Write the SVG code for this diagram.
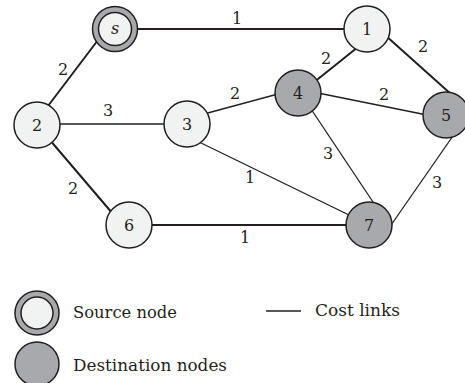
<svg xmlns="http://www.w3.org/2000/svg" width="465" height="383" viewBox="0 0 465 383">
<style>
.e{stroke:#231f20;stroke-width:1.3;fill:none}
.t{stroke-width:2}
.n{fill:#f1f2f2;stroke:#231f20;stroke-width:1.5}
.d{fill:#a7a9ac;stroke:#231f20;stroke-width:1.5}
.r{fill:#a7a9ac;stroke:#231f20;stroke-width:1.5}
text{fill:#231f20;font-family:"DejaVu Serif",serif}
.nl{font-size:16px;text-anchor:middle;dominant-baseline:central}
.el{font-size:16px;text-anchor:middle;dominant-baseline:central}
.lg{font-size:17.5px}
</style>
<rect width="465" height="383" fill="#fff"/>
<g id="connectors">
<line class="e t" x1="135" y1="29" x2="347" y2="29"/>
<line class="e t" x1="98" y1="40" x2="48" y2="106"/>
<line class="e" x1="57" y1="124" x2="167" y2="124"/>
<line class="e t" x1="49" y1="139" x2="113" y2="214"/>
<line class="e" x1="204" y1="114" x2="278" y2="94"/>
<line class="e" x1="197" y1="141" x2="349" y2="215"/>
<line class="e t" x1="313" y1="83" x2="358" y2="47"/>
<line class="e" x1="318" y1="93" x2="427" y2="115"/>
<line class="e" x1="309" y1="106" x2="375" y2="205"/>
<line class="e t" x1="385" y1="35" x2="452" y2="95"/>
<line class="e" x1="455" y1="133" x2="389" y2="228"/>
<line class="e t" x1="148" y1="225" x2="350" y2="225"/>
<text class="el" x="237" y="18">1</text>
<text class="el" x="63" y="69">2</text>
<text class="el" x="108" y="110">3</text>
<text class="el" x="235" y="93">2</text>
<text class="el" x="73" y="188">2</text>
<text class="el" x="326" y="58">2</text>
<text class="el" x="423" y="46">2</text>
<text class="el" x="384" y="94">2</text>
<text class="el" x="328" y="153">3</text>
<text class="el" x="250" y="177">1</text>
<text class="el" x="437" y="182">3</text>
<text class="el" x="245" y="237">1</text>
</g>
<g id="node-s">
<circle class="r" cx="115" cy="29" r="22.5"/>
<circle class="n" cx="115" cy="29" r="16.5"/>
<text class="nl" x="115" y="28" font-style="italic">s</text>
</g>
<g id="node-1"><circle class="n" cx="367" cy="29" r="23"/><text class="nl" x="367" y="29">1</text></g>
<g id="node-2"><circle class="n" cx="37" cy="125" r="23"/><text class="nl" x="37" y="125">2</text></g>
<g id="node-3"><circle class="n" cx="187" cy="124" r="23"/><text class="nl" x="187" y="124">3</text></g>
<g id="node-4"><circle class="d" cx="298" cy="93" r="23"/><text class="nl" x="298" y="93">4</text></g>
<g id="node-5"><circle class="d" cx="446" cy="115" r="23"/><text class="nl" x="446" y="115">5</text></g>
<g id="node-6"><circle class="n" cx="129" cy="225" r="23"/><text class="nl" x="129" y="225">6</text></g>
<g id="node-7"><circle class="d" cx="369" cy="225" r="23"/><text class="nl" x="369" y="225">7</text></g>
<g id="legend">
<circle class="r" cx="37" cy="313" r="22"/>
<circle class="n" cx="37" cy="313" r="16"/>
<text class="lg" x="73" y="318" textLength="104" lengthAdjust="spacingAndGlyphs">Source node</text>
<circle class="d" cx="37" cy="364" r="22"/>
<text class="lg" x="73" y="371" textLength="154" lengthAdjust="spacingAndGlyphs">Destination nodes</text>
<line x1="266" y1="311" x2="301" y2="311" stroke="#231f20" stroke-width="1.3"/>
<text class="lg" x="315" y="316" textLength="85" lengthAdjust="spacingAndGlyphs">Cost links</text>
</g>
</svg>
